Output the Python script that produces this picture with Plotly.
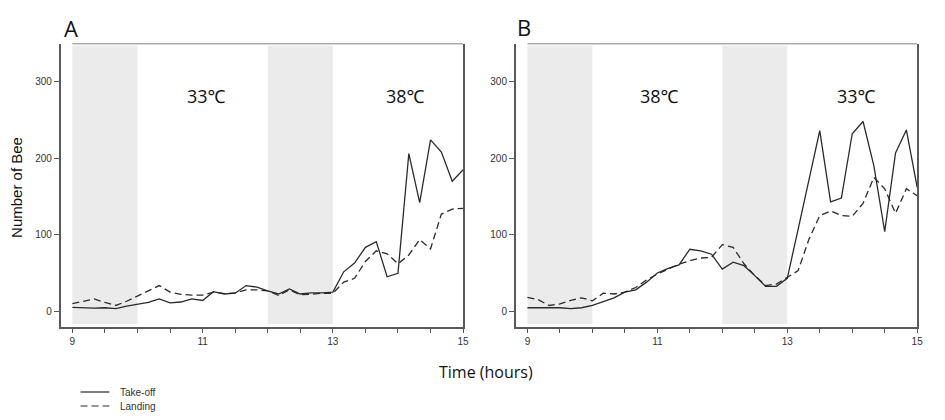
import numpy as np
import plotly.graph_objects as go

# ---------------- data ----------------
time_hours = [9 + i / 6 for i in range(37)]  # 10-minute intervals, 9:00-15:00

takeoff_A = [5, 4.5, 4, 4.5, 3.5, 6.5, 9.5, 11.5, 16, 11, 12, 16, 14,
             25.5, 22.5, 23.5, 33.5, 31.5, 26.5,
             22.5, 29, 22.5, 24, 24, 25,
             51.5, 63, 83.5, 91, 45, 49.5,
             206, 142, 224, 208, 170, 185]
landing_A = [10, 13, 16, 11.5, 7.5, 13, 19.5, 26, 33.5, 25, 22, 21, 21,
             25, 23, 24, 28, 28, 26.5,
             20.5, 28, 21.5, 22, 23.5, 23.5,
             38, 43, 65, 79, 75, 62,
             73.5, 93.5, 81.5, 127, 133.5, 134.5]
takeoff_B = [4.5, 4.5, 4.5, 4.5, 3.5, 4.5, 7.5, 12, 17.5, 25, 28, 38, 50,
             56, 60.5, 81, 79, 74.5, 55,
             64, 59.5, 46.5, 32.5, 32.5, 43,
             107, 172, 236, 143, 148, 232,
             248, 190, 104, 207, 237, 162]
landing_B = [18, 15, 7.5, 9.5, 14, 17.5, 13.5, 23.5, 22.5, 25, 31, 41, 48.5,
             55, 61.5, 66, 69.5, 70.5, 87,
             83.5, 62, 46.5, 33.5, 35.5, 44,
             53, 94, 125, 131, 125, 124,
             141, 175, 160, 128, 160, 151]

shade_periods = [(9, 10), (12, 13)]
temps_A = ["33℃", "38℃"]
temps_B = ["38℃", "33℃"]
panel_letters = ["A", "B"]
x_tick_vals = [9 + 0.5 * k for k in range(13)]
x_tick_labels = ["9", "", "", "", "11", "", "", "", "13", "", "", "", "15"]
y_tick_vals = [0, 100, 200, 300]
series_names = ["Take-off", "Landing"]

# ---------------- styles / layout helpers ----------------
LINE_COL = "#2b2b2b"
AXIS_COL = "#5a5a5a"
SHADE_COL = "#ebebeb"
ARIAL = "Liberation Sans, Arial, sans-serif"
TICK_FONT = dict(family=ARIAL, size=10, color="#333333")
TXT_FONT = "Open Sans, Noto Sans, Noto Sans CJK SC, sans-serif"
W, H, OFF = 945, 420, 8  # page body adds an 8px offset
DASHES = ["solid", "7px,4px"]


def px(x):
    return (x - OFF) / W


def py(y):
    return 1 - (y - OFF) / H


fig = go.Figure()

panels = [
    ("x", "y", takeoff_A, landing_A),
    ("x2", "y2", takeoff_B, landing_B),
]
for xa, ya, tk, ld in panels:
    for name, vals, dash in zip(series_names, [tk, ld], DASHES):
        fig.add_trace(go.Scatter(x=time_hours, y=vals, mode="lines", name=name,
                                 line=dict(color=LINE_COL, width=1.3, dash=dash),
                                 xaxis=xa, yaxis=ya, showlegend=False))

YR = [-20, 350]
shapes = []
for xa, ya in [("x", "y"), ("x2", "y2")]:
    for x0, x1 in shade_periods:
        shapes.append(dict(type="rect", xref=xa, yref=ya, x0=x0, x1=x1, y0=-17, y1=347,
                           fillcolor=SHADE_COL, line=dict(width=0), layer="below"))
    # top frame line (starts at 9, not at the offset y axis)
    shapes.append(dict(type="line", xref=xa, yref=ya, x0=9, x1=15, y0=YR[1], y1=YR[1],
                       line=dict(color=AXIS_COL, width=1.5)))

common_x = dict(range=[8.82, 15], showgrid=False, zeroline=False, showline=True,
                linecolor=AXIS_COL, linewidth=1.5, ticks="outside", ticklen=5,
                tickwidth=1, tickcolor=AXIS_COL, tickvals=x_tick_vals,
                ticktext=x_tick_labels, tickfont=TICK_FONT)
common_y = dict(range=YR, showgrid=False, zeroline=False, showline=True,
                linecolor=AXIS_COL, linewidth=1.5, mirror=True, ticks="outside",
                ticklen=5, tickwidth=1, tickcolor=AXIS_COL, tickvals=y_tick_vals,
                tickfont=TICK_FONT)

ann = []


def add_text(text, x, y, xref, yref, size, angle=0, xanchor="center", font=TXT_FONT,
             color="#111111"):
    ann.append(dict(text=text, x=x, y=y, xref=xref, yref=yref, showarrow=False,
                    xanchor=xanchor, yanchor="middle", textangle=angle,
                    font=dict(family=font, size=size, color=color)))


# legend key (drawn manually for the compact spacing of the original)
for k, (name, dash) in enumerate(zip(series_names, DASHES)):
    ly = 392 + 14 * k
    shapes.append(dict(type="line", xref="paper", yref="paper", x0=px(81), x1=px(110),
                       y0=py(ly), y1=py(ly), line=dict(color=LINE_COL, width=1.2, dash=dash)))
    add_text(name, px(119), py(ly), "paper", "paper", 10, xanchor="left",
             font=ARIAL, color="#333333")

ydom = [py(326.5), py(43.5)]
fig.update_layout(
    width=W, height=H,
    margin=dict(l=0, r=0, t=0, b=0),
    paper_bgcolor="white", plot_bgcolor="white",
    xaxis=dict(domain=[px(61), px(466)], anchor="y", **common_x),
    yaxis=dict(domain=ydom, anchor="x", **common_y),
    xaxis2=dict(domain=[px(519), px(923)], anchor="y2", **common_x),
    yaxis2=dict(domain=ydom, anchor="x2", **common_y),
    shapes=shapes,
    showlegend=False,
)

# panel letters
add_text(panel_letters[0], px(71), py(28), "paper", "paper", 22)
add_text(panel_letters[1], px(527.5), py(27), "paper", "paper", 22)
# temperature labels
for (xa, ya), temps, xs in [(("x", "y"), temps_A, [11.06, 14.11]),
                            (("x2", "y2"), temps_B, [11.03, 14.06])]:
    for t, xv in zip(temps, xs):
        add_text(t, xv, 281, xa, ya, 18)
# axis titles
add_text("Time (hours)", px(489), py(372), "paper", "paper", 16)
add_text("Number of Bee", px(16), py(187), "paper", "paper", 15, angle=-90, font=ARIAL)
fig.update_layout(annotations=ann)

fig.write_html("out.html")
